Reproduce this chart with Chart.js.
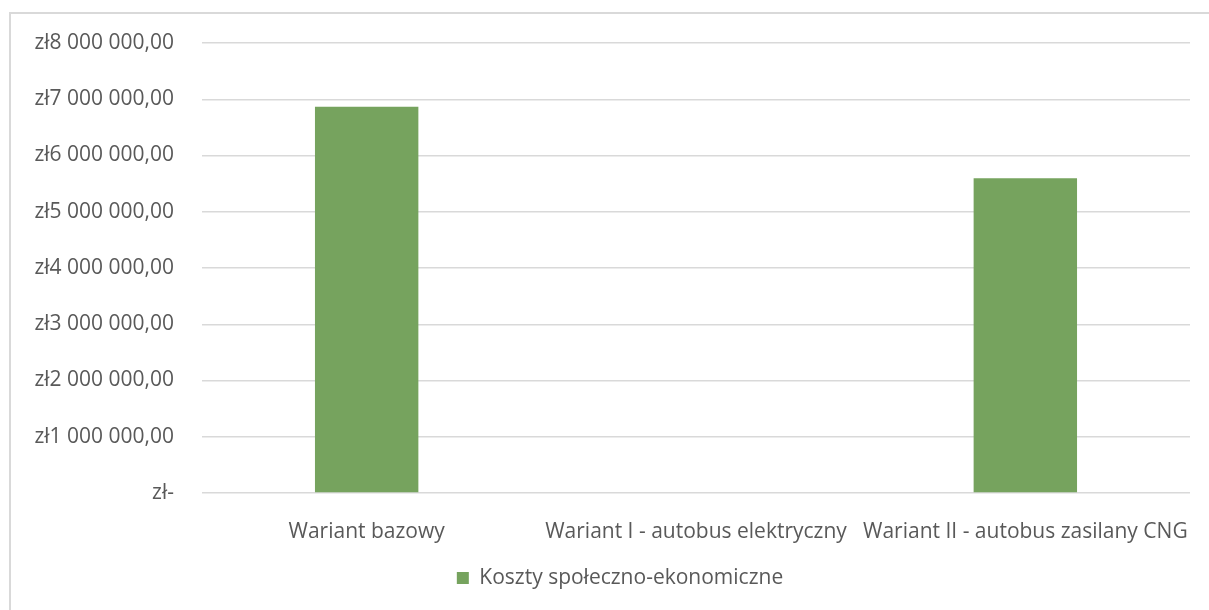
<!DOCTYPE html>
<html>
<head>
<meta charset="utf-8">
<script src="https://cdn.jsdelivr.net/npm/chart.js@4"></script>
<style>
  html, body { margin: 0; padding: 0; background: #fff; }
  #wrap { position: relative; width: 1209px; height: 610px; overflow: hidden; }
  #frame { position: absolute; left: 9px; top: 12px; width: 1300px; height: 700px;
           border-left: 2px solid #d9d9d9; border-top: 2px solid #d9d9d9; }
  canvas { position: absolute; left: 0; top: 0; }
</style>
</head>
<body>
<div id="wrap">
  <div id="frame"></div>
  <canvas id="costChart" width="1240" height="610"></canvas>
</div>
<script>
const categories = ['Wariant bazowy', 'Wariant I - autobus elektryczny', 'Wariant II - autobus zasilany CNG'];
const costValues = [6865000, 0, 5595000];
const seriesName = 'Koszty społeczno-ekonomiczne';
const yTickLabels = ['zł-', 'zł1 000 000,00', 'zł2 000 000,00', 'zł3 000 000,00', 'zł4 000 000,00',
  'zł5 000 000,00', 'zł6 000 000,00', 'zł7 000 000,00', 'zł8 000 000,00'];

document.addEventListener('DOMContentLoaded', function() {
  const ctx = document.getElementById('costChart').getContext('2d');
  const font = { family: '"Open Sans", sans-serif', size: 21 };
  new Chart(ctx, {
    type: 'bar',
    data: {
      labels: categories,
      datasets: [{
        label: seriesName,
        data: costValues,
        backgroundColor: '#76a35e',
        borderWidth: 0,
        barPercentage: 0.314,
        categoryPercentage: 1
      }]
    },
    options: {
      responsive: false,
      animation: false,
      layout: { padding: { top: 43, left: 0, right: 0, bottom: 11.5 } },
      scales: {
        x: {
          grid: { display: false },
          border: { display: false },
          ticks: { color: '#595959', font: font, padding: 18, maxRotation: 0, autoSkip: false },
          afterFit: function(scale) { scale.height = 64.5; }
        },
        y: {
          min: 0,
          max: 8000000,
          grid: { color: '#d9d9d9', lineWidth: 1.5, drawTicks: false },
          border: { display: false },
          ticks: {
            stepSize: 1000000,
            color: '#595959',
            font: font,
            padding: 28,
            callback: function(value, index) { return yTickLabels[index]; }
          },
          afterFit: function(scale) { scale.width = 202; }
        },
        // empty spacer on the right so the legend sits where it does in the original
        spacer: {
          type: 'linear',
          position: 'right',
          grid: { display: false },
          border: { display: false },
          ticks: { display: false },
          afterFit: function(scale) { scale.width = 50; }
        }
      },
      plugins: {
        legend: {
          position: 'bottom',
          labels: {
            color: '#595959',
            font: font,
            boxWidth: 12,
            boxHeight: 12,
            padding: 10
          }
        },
        tooltip: { enabled: false }
      }
    }
  });
});
</script>
</body>
</html>
